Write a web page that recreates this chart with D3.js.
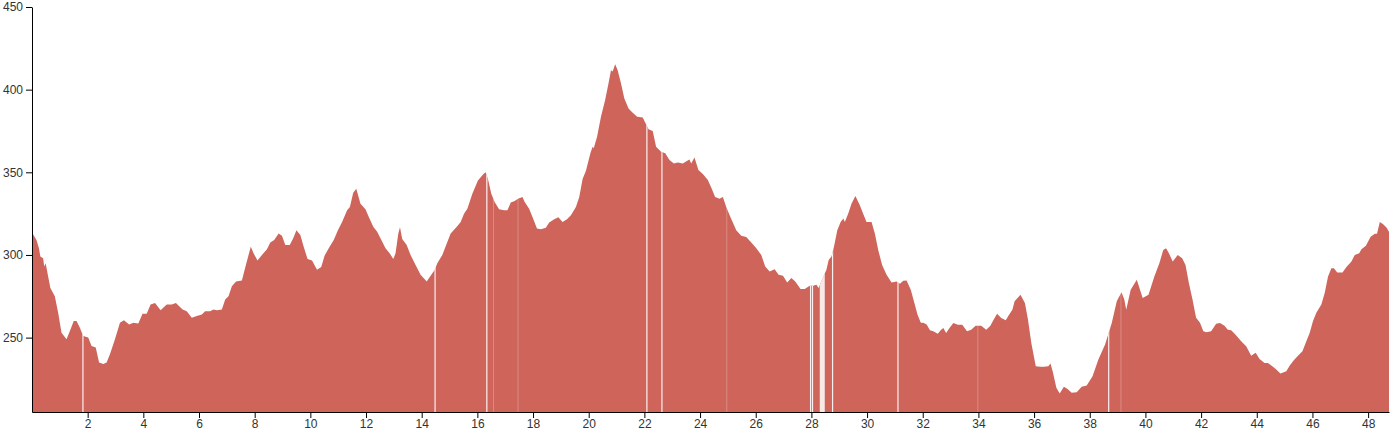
<!DOCTYPE html>
<html>
<head>
<meta charset="utf-8">
<script src="https://cdn.jsdelivr.net/npm/d3@7"></script>
<style>
  html, body { margin: 0; padding: 0; background: #fff; }
  svg { display: block; }
  .axis text { font-family: "Liberation Sans", Arial, sans-serif; font-size: 12px; fill: #333; }
  .axis path, .axis line { stroke: #000; }
</style>
</head>
<body>
<svg id="chart" width="1396" height="430"></svg>
<script>
// Distance along the route (km)
const distanceKm = [
  0, 0.16, 0.25, 0.30, 0.40, 0.44, 0.49, 0.58, 0.66, 0.82, 0.94, 1.06, 1.24, 1.36, 1.50, 1.60, 1.72, 1.84,
  2.02, 2.14, 2.29, 2.41, 2.56, 2.68, 2.80, 2.98, 3.16, 3.30, 3.49, 3.64, 3.82, 3.97, 4.12, 4.26, 4.42, 4.62,
  4.84, 5.02, 5.17, 5.41, 5.56, 5.74, 5.92, 6.10, 6.22, 6.40, 6.52, 6.64, 6.82, 6.94, 7.06, 7.18, 7.33, 7.54,
  7.70, 7.86, 7.96, 8.10, 8.26, 8.44, 8.56, 8.70, 8.86, 8.98, 9.10, 9.26, 9.38, 9.50, 9.64, 9.76, 9.90, 10.06,
  10.24, 10.39, 10.51, 10.66, 10.84, 10.99, 11.14, 11.32, 11.42, 11.54, 11.65, 11.80, 11.98, 12.10, 12.26,
  12.40, 12.55, 12.70, 12.86, 12.98, 13.06, 13.16, 13.22, 13.30, 13.46, 13.60, 13.78, 13.96, 14.18, 14.32,
  14.47, 14.56, 14.74, 14.90, 15.04, 15.26, 15.40, 15.52, 15.64, 15.82, 16.02, 16.22, 16.30, 16.38, 16.50,
  16.62, 16.78, 16.96, 17.08, 17.20, 17.34, 17.46, 17.62, 17.70, 17.86, 17.98, 18.14, 18.28, 18.46, 18.58,
  18.76, 18.91, 19.06, 19.22, 19.36, 19.54, 19.66, 19.78, 19.90, 20.06, 20.14, 20.18, 20.30, 20.44, 20.59,
  20.71, 20.80, 20.86, 20.95, 21.04, 21.16, 21.28, 21.43, 21.58, 21.74, 21.94, 22.06, 22.15, 22.30, 22.42,
  22.60, 22.75, 22.90, 23.06, 23.20, 23.38, 23.54, 23.62, 23.68, 23.80, 23.94, 24.10, 24.28, 24.42, 24.54,
  24.70, 24.82, 24.94, 25.09, 25.30, 25.48, 25.66, 25.84, 26.02, 26.20, 26.34, 26.50, 26.68, 26.82, 26.98,
  27.13, 27.28, 27.42, 27.61, 27.76, 27.94, 28.06, 28.18, 28.26, 28.38, 28.54, 28.62, 28.72, 28.81, 28.93,
  29.05, 29.15, 29.20, 29.32, 29.44, 29.58, 29.74, 29.86, 29.98, 30.16, 30.28, 30.40, 30.54, 30.70, 30.88,
  31.06, 31.18, 31.30, 31.42, 31.57, 31.70, 31.81, 31.93, 32.02, 32.14, 32.26, 32.38, 32.54, 32.66, 32.74,
  32.84, 32.96, 33.10, 33.26, 33.42, 33.59, 33.74, 33.90, 34.10, 34.28, 34.43, 34.55, 34.67, 34.82, 34.98,
  35.10, 35.22, 35.30, 35.51, 35.67, 35.78, 35.90, 36.06, 36.23, 36.35, 36.51, 36.59, 36.68, 36.80, 36.92,
  37.07, 37.19, 37.35, 37.53, 37.71, 37.89, 38.10, 38.31, 38.55, 38.79, 38.97, 39.14, 39.24, 39.31, 39.47,
  39.69, 39.90, 40.11, 40.32, 40.50, 40.64, 40.74, 40.83, 40.98, 41.16, 41.32, 41.44, 41.56, 41.68, 41.82,
  41.96, 42.08, 42.20, 42.36, 42.54, 42.68, 42.84, 42.96, 43.08, 43.24, 43.44, 43.62, 43.80, 43.96, 44.10,
  44.28, 44.40, 44.56, 44.68, 44.85, 44.97, 45.06, 45.18, 45.33, 45.48, 45.64, 45.78, 45.90, 46.02, 46.14,
  46.32, 46.44, 46.56, 46.68, 46.77, 46.89, 47.08, 47.22, 47.40, 47.52, 47.68, 47.76, 47.92, 48.09, 48.24,
  48.32, 48.42, 48.54, 48.66, 48.75
];

// Elevation (m) at each distance
const elevationM = [
  313.6, 309, 304, 299, 298, 293, 295, 287, 280, 275, 265, 253, 249, 254, 260, 260, 256, 251,
  250, 245, 244, 235, 234, 235, 240, 249, 259, 260.5, 258, 259, 258.5, 264.5, 264.5, 270, 271, 266.5,
  270, 270, 271, 267, 266, 262, 263, 264, 266, 266, 267, 266.5, 267, 273, 275, 281, 284, 284.6,
  295, 305, 301, 296.7, 300, 303.5, 307.5, 309, 313, 311.6, 306, 306, 310, 315, 312, 305, 297.5, 296.7,
  291, 292.7, 299.5, 304, 309, 315, 320, 327, 329, 337.7, 340, 331, 327.7, 323, 317,
  314, 309, 304, 300.7, 297.5, 301, 313, 316.8, 309.6, 306, 300, 294, 288, 284, 287.4,
  291, 295, 300, 307, 313, 317, 320, 325, 328, 337, 345, 349, 350, 346, 337,
  332, 327.7, 327, 327, 331.7, 332.7, 334, 335, 332, 328, 323, 316, 315.6, 316.4, 319.6,
  321.6, 322.8, 320, 321.6, 324, 329, 335, 346, 351, 361.5, 365.5, 364.5, 371.5, 383.6, 393.7,
  403.7, 411.8, 411, 415.4, 411.8, 403.7, 394.7, 388.6, 386, 383.6, 383.2, 379, 376, 375, 365.5,
  362.5, 361.5, 357.4, 355.4, 356, 355.4, 357, 357.8, 355.4, 359, 351.4, 349, 345.4, 340, 335,
  334, 335, 329, 323, 315, 311.6, 310.8, 307.5, 304, 300, 293, 290, 291.4, 288, 287.4,
  283.4, 286, 284, 279.4, 279.4, 281.4, 281.4, 282, 280, 285, 291, 297, 299, 305, 315,
  320, 322, 320, 325, 331, 335.7, 330, 325, 320, 320, 313, 303, 294, 288, 283.4,
  284, 282.6, 284.4, 284.6, 279, 271, 264, 259, 259, 258, 254.4, 253.8, 252.4, 254.8, 255.8,
  252.8, 255.8, 258.9, 257.8, 257.8, 253.8, 254.8, 257.2, 257.2, 254.8, 257.2, 260.9, 264.5, 261.9, 260.5,
  263.9, 266.9, 272, 276, 271, 260.9, 246.8, 232.7, 232.3, 232.3, 232.7, 234.3, 228.7, 219.6, 216.2,
  220.2, 219, 216.6, 217, 220.2, 221, 226.7, 236.7, 245.8, 258.9, 272, 277.4, 273, 266.9, 279,
  285, 273.9, 276, 287, 295, 303, 304, 301.5, 296, 300, 298, 294, 283, 274, 262,
  259, 253.8, 253.2, 253.8, 258.4, 258.9, 257.2, 254.8, 254.4, 251.8, 247.8, 244.8, 239, 240.8, 237,
  234.7, 234.7, 232.7, 231, 228.3, 229, 229.7, 233, 236.3, 239, 241.7, 247.8, 252.8, 260, 265,
  270, 277, 287, 292, 292, 289.4, 289.4, 292.7, 296, 300, 301, 303.5, 305.5, 311, 312.8,
  312.8, 320, 318.6, 316.6, 314
];

// Axis ticks
const xTickValues = [2, 4, 6, 8, 10, 12, 14, 16, 18, 20, 22, 24, 26, 28, 30, 32, 34, 36, 38, 40, 42, 44, 46, 48];
const yTickValues = [250, 300, 350, 400, 450];
const yDomain = [205, 450];

// Gaps in the recorded track (km)
const gapKm = [1.83, 14.48, 16.34, 22.09, 22.63, 27.97, 28.04, 28.76, 31.11, 38.68];
const faintGapKm = [16.58, 17.46, 24.96, 33.98, 39.12];
const gapBandStartKm = [28.30];
const gapBandEndKm = [28.48];

const data = distanceKm.map((d, i) => ({ x: d, y: elevationM[i] }));

const svg = d3.select("#chart");
const W = 1396, H = 430;
const margin = { top: 7, right: 7, bottom: 18, left: 32 };
const innerW = W - margin.left - margin.right;
const innerH = H - margin.top - margin.bottom;

const g = svg.append("g").attr("transform", `translate(${margin.left},${margin.top})`);

const x = d3.scaleLinear().domain(d3.extent(distanceKm)).range([0, innerW]);
const y = d3.scaleLinear().domain(yDomain).range([innerH, 0]);

const area = d3.area()
  .x(d => x(d.x))
  .y0(innerH)
  .y1(d => y(d.y));

const fillColor = "#cf645b";

g.append("clipPath").attr("id", "areaClip")
  .append("path").datum(data).attr("d", area);

g.append("path").datum(data)
  .attr("d", area)
  .attr("fill", fillColor);

const gapLayer = g.append("g").attr("clip-path", "url(#areaClip)");

gapLayer.selectAll("rect.band")
  .data(gapBandStartKm.map((s, i) => ({ s, e: gapBandEndKm[i] })))
  .join("rect")
  .attr("class", "band")
  .attr("x", d => x(d.s))
  .attr("width", d => x(d.e) - x(d.s))
  .attr("y", 0)
  .attr("height", innerH)
  .attr("fill", "#fff")
  .attr("opacity", 0.85);

gapLayer.selectAll("rect.gap")
  .data(gapKm)
  .join("rect")
  .attr("class", "gap")
  .attr("x", d => x(d) - 0.6)
  .attr("width", 1.2)
  .attr("y", 0)
  .attr("height", innerH)
  .attr("fill", "#fff")
  .attr("opacity", 0.9);

gapLayer.selectAll("rect.faint")
  .data(faintGapKm)
  .join("rect")
  .attr("class", "faint")
  .attr("x", d => x(d) - 0.5)
  .attr("width", 1)
  .attr("y", 0)
  .attr("height", innerH)
  .attr("fill", "#fff")
  .attr("opacity", 0.25);

g.append("g")
  .attr("class", "axis")
  .attr("transform", `translate(0,${innerH})`)
  .call(d3.axisBottom(x).tickValues(xTickValues).tickFormat(d3.format("d")).tickSizeOuter(0))
  .call(s => s.selectAll("text").attr("dy", "0.6em"));

g.append("g")
  .attr("class", "axis")
  .call(d3.axisLeft(y).tickValues(yTickValues).tickFormat(d3.format("d")).tickSizeOuter(0));
</script>
</body>
</html>
